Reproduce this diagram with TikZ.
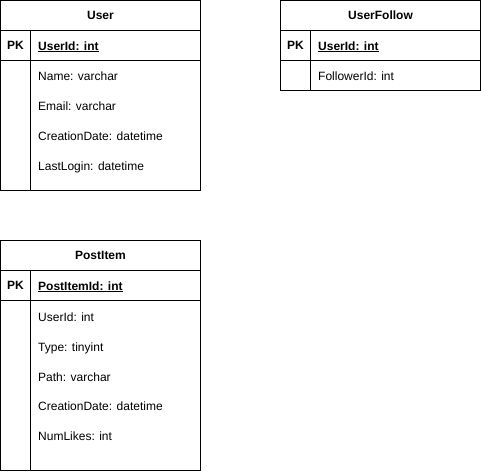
\documentclass[tikz,border=0pt]{standalone}
\usepackage{fontspec}
\setmainfont{Liberation Sans}
\begin{document}
\begin{tikzpicture}[x=1pt,y=-1pt,
  cell/.style={draw=black, line width=1pt, outer sep=0pt, inner sep=0pt, anchor=north west},
  hdr/.style={cell, font=\fontsize{12}{14}\selectfont\bfseries},
  field/.style={anchor=base west, inner sep=0pt, font=\fontsize{12}{14}\selectfont},
  keyf/.style={anchor=base west, inner sep=0pt, font=\fontsize{12}{14}\selectfont\bfseries}]
\useasboundingbox (0,0) rectangle (481,471);
% User
\node[hdr, minimum width=200pt, minimum height=30pt] (userT) at (0.5,0.5) {User};
\node[hdr, minimum width=30pt, minimum height=30pt] (userPKk) at (userT.south west) {PK};
\node[cell, minimum width=170pt, minimum height=30pt] (userPK) at (userPKk.north east) {};
\node[cell, minimum width=30pt, minimum height=130pt] (userB1) at (userPKk.south west) {};
\node[cell, minimum width=170pt, minimum height=130pt] (userB2) at (userB1.north east) {};
\node[keyf] (userK) at (38,50) {\underline{UserId: int}};
\node[field] (userF1) at (38,80.5) {Name: varchar};
\node[field] (userF2) at (38,110.5) {Email: varchar};
\node[field] (userF3) at (38,140.5) {CreationDate: datetime};
\node[field] (userF4) at (38,170.5) {LastLogin: datetime};
% UserFollow
\node[hdr, minimum width=200pt, minimum height=30pt] (ufT) at (280.5,0.5) {UserFollow};
\node[hdr, minimum width=30pt, minimum height=30pt] (ufPKk) at (ufT.south west) {PK};
\node[cell, minimum width=170pt, minimum height=30pt] (ufPK) at (ufPKk.north east) {};
\node[cell, minimum width=30pt, minimum height=30pt] (ufB1) at (ufPKk.south west) {};
\node[cell, minimum width=170pt, minimum height=30pt] (ufB2) at (ufB1.north east) {};
\node[keyf] (ufK) at (318,50) {\underline{UserId: int}};
\node[field] (ufF1) at (318,80) {FollowerId: int};
% PostItem
\node[hdr, minimum width=200pt, minimum height=30pt] (piT) at (0.5,240.5) {PostItem};
\node[hdr, minimum width=30pt, minimum height=30pt] (piPKk) at (piT.south west) {PK};
\node[cell, minimum width=170pt, minimum height=30pt] (piPK) at (piPKk.north east) {};
\node[cell, minimum width=30pt, minimum height=170pt] (piB1) at (piPKk.south west) {};
\node[cell, minimum width=170pt, minimum height=170pt] (piB2) at (piB1.north east) {};
\node[keyf] (piK) at (38,290) {\underline{PostItemId: int}};
\node[field] (piF1) at (38,321.5) {UserId: int};
\node[field] (piF2) at (38,351.5) {Type: tinyint};
\node[field] (piF3) at (38,381.5) {Path: varchar};
\node[field] (piF4) at (38,410.5) {CreationDate: datetime};
\node[field] (piF5) at (38,440.5) {NumLikes: int};
\end{tikzpicture}
\end{document}
